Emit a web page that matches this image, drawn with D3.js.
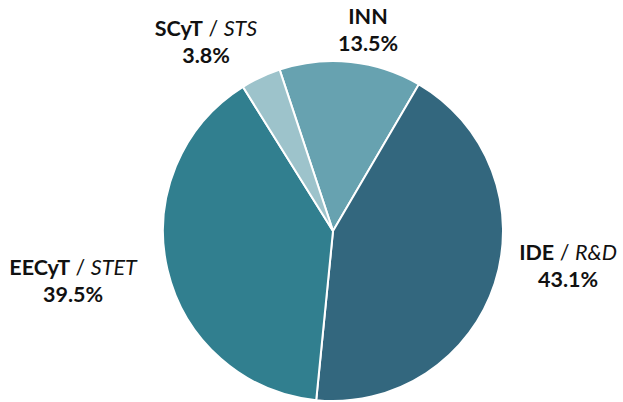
<!DOCTYPE html>
<html>
<head>
<meta charset="utf-8">
<script src="https://cdn.jsdelivr.net/npm/d3@7"></script>
<style>
  html, body { margin: 0; padding: 0; background: #fff; }
  svg { display: block; }
  text { font-family: Lato, "Open Sans", sans-serif; font-size: 21.5px; fill: #111; }
</style>
</head>
<body>
<div id="chart"></div>
<script>
var categories = ["INN", "IDE", "EECyT", "SCyT"];
var englishNames = ["", "R&D", "STET", "STS"];
var shares = [13.5, 43.1, 39.5, 3.8];
var colors = ["#67a2b0", "#33677e", "#317f8f", "#9dc3cb"];

// label centres
var labelPos = [[368, 24], [568, 260], [73, 275], [206, 36]];

var width = 623, height = 402,
    cx = 333, cy = 231, radius = 170;

var svg = d3.select("#chart").append("svg")
    .attr("width", width)
    .attr("height", height);

var data = categories.map(function(c, i) {
    return {name: c, en: englishNames[i], value: shares[i], color: colors[i], pos: labelPos[i]};
});

var start = -18.3 * Math.PI / 180;
var pie = d3.pie()
    .sort(null)
    .value(function(d) { return d.value; })
    .startAngle(start)
    .endAngle(start + 2 * Math.PI);

var arc = d3.arc().innerRadius(0).outerRadius(radius);

var g = svg.append("g")
    .attr("transform", "translate(" + cx + "," + cy + ")");

g.selectAll("path")
    .data(pie(data))
    .enter().append("path")
    .attr("d", arc)
    .attr("fill", function(d) { return d.data.color; })
    .attr("stroke", "#fff")
    .attr("stroke-width", 2);

var labels = svg.selectAll("g.label")
    .data(data)
    .enter().append("g")
    .attr("class", "label")
    .attr("transform", function(d) { return "translate(" + d.pos[0] + "," + d.pos[1] + ")"; });

var first = labels.append("text")
    .attr("text-anchor", "middle")
    .attr("y", 0);
first.append("tspan")
    .attr("font-weight", "bold")
    .text(function(d) { return d.name; });
first.filter(function(d) { return d.en; }).append("tspan")
    .text(" / ");
first.filter(function(d) { return d.en; }).append("tspan")
    .attr("font-style", "italic")
    .text(function(d) { return d.en; });

labels.append("text")
    .attr("text-anchor", "middle")
    .attr("y", 27)
    .attr("font-weight", "bold")
    .text(function(d) { return d.value.toFixed(1) + "%"; });
</script>
</body>
</html>
